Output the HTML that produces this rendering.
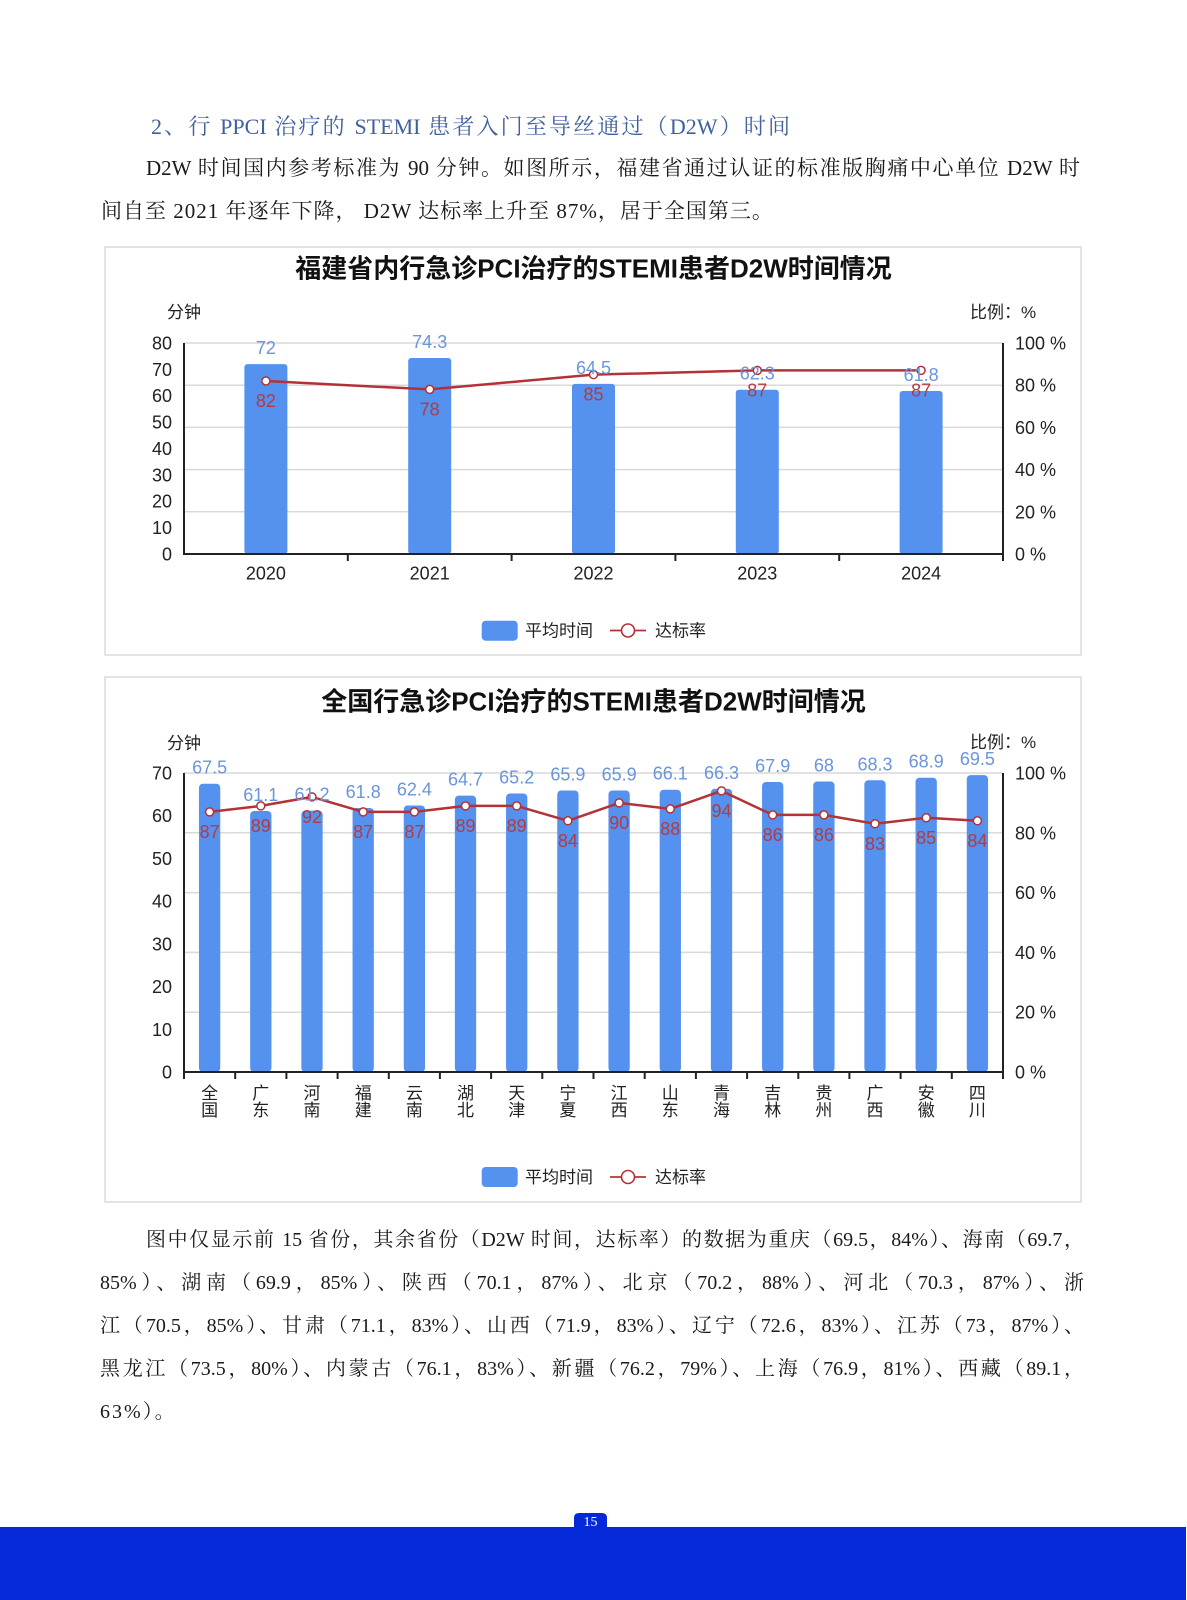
<!DOCTYPE html>
<html lang="zh">
<head>
<meta charset="utf-8">
<style>
  html,body{margin:0;padding:0;background:#fff;}
  body{width:1187px;height:1600px;position:relative;overflow:hidden;}
  .t{position:absolute;height:30px;line-height:30px;white-space:normal;color:#1a1a1a;
     font-family:"Liberation Serif","Noto Serif CJK SC",serif;}
  .j{text-align:justify;text-align-last:justify;}
  svg{position:absolute;left:0;top:0;}
  svg text{font-family:"Liberation Sans","Noto Sans CJK SC",sans-serif;}
</style>
</head>
<body>

<div class="t j" style="left:151px;top:112px;width:639px;font-size:22px;color:#41609e;">2、行 PPCI 治疗的 STEMI 患者入门至导丝通过（D2W）时间</div>
<div class="t j" style="left:146px;top:153px;width:934px;font-size:21px;">D2W 时间国内参考标准为 90 分钟。如图所示，福建省通过认证的标准版胸痛中心单位 D2W 时</div>
<div class="t" style="left:101px;top:196px;width:900px;font-size:21px;letter-spacing:1px;">间自至 2021 年逐年下降， D2W 达标率上升至 87%，居于全国第三。</div>

<div class="t j" style="left:146px;top:1225px;width:938px;font-size:20px;">图中仅显示前 15 省份，其余省份（D2W 时间，达标率）的数据为重庆（69.5，84%）、海南（69.7，</div>
<div class="t j" style="left:100px;top:1268px;width:984px;font-size:20px;">85%）、湖南（69.9，85%）、陕西（70.1，87%）、北京（70.2，88%）、河北（70.3，87%）、浙</div>
<div class="t j" style="left:100px;top:1311px;width:984px;font-size:20px;">江（70.5，85%）、甘肃（71.1，83%）、山西（71.9，83%）、辽宁（72.6，83%）、江苏（73，87%）、</div>
<div class="t j" style="left:100px;top:1354px;width:984px;font-size:20px;">黑龙江（73.5，80%）、内蒙古（76.1，83%）、新疆（76.2，79%）、上海（76.9，81%）、西藏（89.1，</div>
<div class="t" style="left:100px;top:1397px;width:400px;font-size:20px;letter-spacing:2px;">63%）。</div>

<svg width="1187" height="1600" viewBox="0 0 1187 1600" xmlns="http://www.w3.org/2000/svg">
  <!-- ================= CHART 1 ================= -->
  <rect x="105" y="247" width="976" height="408" fill="none" stroke="#dcdcdc" stroke-width="1.5"/>
  <text x="593.5" y="277.5" font-size="26" font-weight="bold" fill="#111" text-anchor="middle">福建省内行急诊PCI治疗的STEMI患者D2W时间情况</text>
  <text x="167" y="318" font-size="17" fill="#222">分钟</text>
  <text x="970" y="318" font-size="17" fill="#222">比例：%</text>

  <g stroke="#d9d9d9" stroke-width="1.5">
    <line x1="184" y1="343" x2="1003" y2="343"/>
    <line x1="184" y1="385.2" x2="1003" y2="385.2"/>
    <line x1="184" y1="427.4" x2="1003" y2="427.4"/>
    <line x1="184" y1="469.6" x2="1003" y2="469.6"/>
    <line x1="184" y1="511.8" x2="1003" y2="511.8"/>
  </g>

  <g font-size="18" fill="#222" text-anchor="end">
    <text x="172" y="349.5">80</text>
    <text x="172" y="375.9">70</text>
    <text x="172" y="402.2">60</text>
    <text x="172" y="428.6">50</text>
    <text x="172" y="455">40</text>
    <text x="172" y="481.4">30</text>
    <text x="172" y="507.7">20</text>
    <text x="172" y="534.1">10</text>
    <text x="172" y="560.5">0</text>
  </g>
  <g font-size="18" fill="#222">
    <text x="1015" y="349.5">100 %</text>
    <text x="1015" y="391.7">80 %</text>
    <text x="1015" y="433.9">60 %</text>
    <text x="1015" y="476.1">40 %</text>
    <text x="1015" y="518.3">20 %</text>
    <text x="1015" y="560.5">0 %</text>
  </g>

  <g fill="#5591ef">
    <rect x="244.4" y="364.1" width="43" height="189.9" rx="3"/>
    <rect x="408.2" y="358.0" width="43" height="196.0" rx="3"/>
    <rect x="572.0" y="383.9" width="43" height="170.1" rx="3"/>
    <rect x="735.8" y="389.7" width="43" height="164.3" rx="3"/>
    <rect x="899.6" y="391.0" width="43" height="163.0" rx="3"/>
  </g>

  <g stroke="#222" stroke-width="2" fill="none">
    <line x1="184" y1="343" x2="184" y2="555"/>
    <line x1="1003" y1="343" x2="1003" y2="561"/>
    <line x1="183" y1="554" x2="1004" y2="554"/>
    <line x1="347.8" y1="554" x2="347.8" y2="561"/>
    <line x1="511.6" y1="554" x2="511.6" y2="561"/>
    <line x1="675.4" y1="554" x2="675.4" y2="561"/>
    <line x1="839.2" y1="554" x2="839.2" y2="561"/>
  </g>

  <g font-size="18" fill="#222" text-anchor="middle">
    <text x="265.9" y="579.5">2020</text>
    <text x="429.7" y="579.5">2021</text>
    <text x="593.5" y="579.5">2022</text>
    <text x="757.3" y="579.5">2023</text>
    <text x="921.1" y="579.5">2024</text>
  </g>

  <polyline points="265.9,381 429.7,389.4 593.5,374.65 757.3,370.4 921.1,370.4" fill="none" stroke="#b43237" stroke-width="2.5" stroke-linejoin="round"/>
  <g fill="#fff" stroke="#b43237" stroke-width="1.5">
    <circle cx="265.9" cy="381" r="4"/>
    <circle cx="429.7" cy="389.4" r="4"/>
    <circle cx="593.5" cy="374.65" r="4"/>
    <circle cx="757.3" cy="370.4" r="4"/>
    <circle cx="921.1" cy="370.4" r="4"/>
  </g>

  <g font-size="18" fill="#6a95dc" text-anchor="middle">
    <text x="265.9" y="354.1">72</text>
    <text x="429.7" y="348.0">74.3</text>
    <text x="593.5" y="373.9">64.5</text>
    <text x="757.3" y="379.7">62.3</text>
    <text x="921.1" y="381.0">61.8</text>
  </g>
  <g font-size="18" fill="#b03c46" text-anchor="middle">
    <text x="265.9" y="407">82</text>
    <text x="429.7" y="415.4">78</text>
    <text x="593.5" y="400.6">85</text>
    <text x="757.3" y="396.4">87</text>
    <text x="921.1" y="396.4">87</text>
  </g>

  <rect x="481.7" y="620.7" width="36" height="20" rx="4" fill="#5591ef"/>
  <text x="525" y="636.5" font-size="17" fill="#222">平均时间</text>
  <line x1="610" y1="630.5" x2="646" y2="630.5" stroke="#b43237" stroke-width="1.8"/>
  <circle cx="628" cy="630.5" r="6.5" fill="#fff" stroke="#b43237" stroke-width="1.6"/>
  <text x="655" y="636.5" font-size="17" fill="#222">达标率</text>

  <!-- ================= CHART 2 ================= -->
  <rect x="105" y="677" width="976" height="525" fill="none" stroke="#dcdcdc" stroke-width="1.5"/>
  <text x="593.5" y="710.5" font-size="26" font-weight="bold" fill="#111" text-anchor="middle">全国行急诊PCI治疗的STEMI患者D2W时间情况</text>
  <text x="167" y="749" font-size="17" fill="#222">分钟</text>
  <text x="970" y="748" font-size="17" fill="#222">比例：%</text>

  <g stroke="#d9d9d9" stroke-width="1.5">
    <line x1="184" y1="773" x2="1003" y2="773"/>
    <line x1="184" y1="832.8" x2="1003" y2="832.8"/>
    <line x1="184" y1="892.6" x2="1003" y2="892.6"/>
    <line x1="184" y1="952.4" x2="1003" y2="952.4"/>
    <line x1="184" y1="1012.2" x2="1003" y2="1012.2"/>
  </g>

  <g font-size="18" fill="#222" text-anchor="end">
    <text x="172" y="779.5">70</text>
    <text x="172" y="822.2">60</text>
    <text x="172" y="864.9">50</text>
    <text x="172" y="907.6">40</text>
    <text x="172" y="950.4">30</text>
    <text x="172" y="993.1">20</text>
    <text x="172" y="1035.8">10</text>
    <text x="172" y="1078.5">0</text>
  </g>
  <g font-size="18" fill="#222">
    <text x="1015" y="779.5">100 %</text>
    <text x="1015" y="839.3">80 %</text>
    <text x="1015" y="899.1">60 %</text>
    <text x="1015" y="958.9">40 %</text>
    <text x="1015" y="1018.7">20 %</text>
    <text x="1015" y="1078.5">0 %</text>
  </g>

  <g fill="#5591ef">
    <rect x="198.95" y="783.7" width="21.3" height="288.3" rx="4"/>
    <rect x="250.15" y="811.0" width="21.3" height="261.0" rx="4"/>
    <rect x="301.35" y="810.6" width="21.3" height="261.4" rx="4"/>
    <rect x="352.55" y="808.0" width="21.3" height="264.0" rx="4"/>
    <rect x="403.75" y="805.5" width="21.3" height="266.5" rx="4"/>
    <rect x="454.85" y="795.6" width="21.3" height="276.4" rx="4"/>
    <rect x="506.05" y="793.5" width="21.3" height="278.5" rx="4"/>
    <rect x="557.25" y="790.5" width="21.3" height="281.5" rx="4"/>
    <rect x="608.45" y="790.5" width="21.3" height="281.5" rx="4"/>
    <rect x="659.65" y="789.7" width="21.3" height="282.3" rx="4"/>
    <rect x="710.85" y="788.8" width="21.3" height="283.2" rx="4"/>
    <rect x="762.05" y="782.0" width="21.3" height="290.0" rx="4"/>
    <rect x="813.25" y="781.5" width="21.3" height="290.5" rx="4"/>
    <rect x="864.35" y="780.3" width="21.3" height="291.7" rx="4"/>
    <rect x="915.55" y="777.7" width="21.3" height="294.3" rx="4"/>
    <rect x="966.75" y="775.1" width="21.3" height="296.9" rx="4"/>
  </g>

  <g stroke="#222" stroke-width="2" fill="none">
    <line x1="184" y1="773" x2="184" y2="1079"/>
    <line x1="1003" y1="773" x2="1003" y2="1079"/>
    <line x1="183" y1="1072" x2="1004" y2="1072"/>
    <line x1="235.2" y1="1072" x2="235.2" y2="1079"/>
    <line x1="286.4" y1="1072" x2="286.4" y2="1079"/>
    <line x1="337.6" y1="1072" x2="337.6" y2="1079"/>
    <line x1="388.8" y1="1072" x2="388.8" y2="1079"/>
    <line x1="439.9" y1="1072" x2="439.9" y2="1079"/>
    <line x1="491.1" y1="1072" x2="491.1" y2="1079"/>
    <line x1="542.3" y1="1072" x2="542.3" y2="1079"/>
    <line x1="593.5" y1="1072" x2="593.5" y2="1079"/>
    <line x1="644.7" y1="1072" x2="644.7" y2="1079"/>
    <line x1="695.9" y1="1072" x2="695.9" y2="1079"/>
    <line x1="747.1" y1="1072" x2="747.1" y2="1079"/>
    <line x1="798.3" y1="1072" x2="798.3" y2="1079"/>
    <line x1="849.4" y1="1072" x2="849.4" y2="1079"/>
    <line x1="900.6" y1="1072" x2="900.6" y2="1079"/>
    <line x1="951.8" y1="1072" x2="951.8" y2="1079"/>
  </g>

  <g font-size="17" fill="#222" text-anchor="middle">
    <text x="209.6" y="1099">全</text><text x="209.6" y="1116">国</text>
    <text x="260.8" y="1099">广</text><text x="260.8" y="1116">东</text>
    <text x="312.0" y="1099">河</text><text x="312.0" y="1116">南</text>
    <text x="363.2" y="1099">福</text><text x="363.2" y="1116">建</text>
    <text x="414.4" y="1099">云</text><text x="414.4" y="1116">南</text>
    <text x="465.5" y="1099">湖</text><text x="465.5" y="1116">北</text>
    <text x="516.7" y="1099">天</text><text x="516.7" y="1116">津</text>
    <text x="567.9" y="1099">宁</text><text x="567.9" y="1116">夏</text>
    <text x="619.1" y="1099">江</text><text x="619.1" y="1116">西</text>
    <text x="670.3" y="1099">山</text><text x="670.3" y="1116">东</text>
    <text x="721.5" y="1099">青</text><text x="721.5" y="1116">海</text>
    <text x="772.7" y="1099">吉</text><text x="772.7" y="1116">林</text>
    <text x="823.9" y="1099">贵</text><text x="823.9" y="1116">州</text>
    <text x="875.0" y="1099">广</text><text x="875.0" y="1116">西</text>
    <text x="926.2" y="1099">安</text><text x="926.2" y="1116">徽</text>
    <text x="977.4" y="1099">四</text><text x="977.4" y="1116">川</text>
  </g>

  <polyline points="209.6,811.9 260.8,805.9 312.0,796.9 363.2,811.9 414.4,811.9 465.5,805.9 516.7,805.9 567.9,820.8 619.1,802.9 670.3,808.9 721.5,790.9 772.7,814.9 823.9,814.9 875.0,823.8 926.2,817.8 977.4,820.8" fill="none" stroke="#b43237" stroke-width="2.5" stroke-linejoin="round"/>
  <g fill="#fff" stroke="#b43237" stroke-width="1.5">
    <circle cx="209.6" cy="811.9" r="4"/>
    <circle cx="260.8" cy="805.9" r="4"/>
    <circle cx="312.0" cy="796.9" r="4"/>
    <circle cx="363.2" cy="811.9" r="4"/>
    <circle cx="414.4" cy="811.9" r="4"/>
    <circle cx="465.5" cy="805.9" r="4"/>
    <circle cx="516.7" cy="805.9" r="4"/>
    <circle cx="567.9" cy="820.8" r="4"/>
    <circle cx="619.1" cy="802.9" r="4"/>
    <circle cx="670.3" cy="808.9" r="4"/>
    <circle cx="721.5" cy="790.9" r="4"/>
    <circle cx="772.7" cy="814.9" r="4"/>
    <circle cx="823.9" cy="814.9" r="4"/>
    <circle cx="875.0" cy="823.8" r="4"/>
    <circle cx="926.2" cy="817.8" r="4"/>
    <circle cx="977.4" cy="820.8" r="4"/>
  </g>

  <g font-size="18" fill="#6a95dc" text-anchor="middle">
    <text x="209.6" y="773.7">67.5</text>
    <text x="260.8" y="801.0">61.1</text>
    <text x="312.0" y="800.6">61.2</text>
    <text x="363.2" y="798.0">61.8</text>
    <text x="414.4" y="795.5">62.4</text>
    <text x="465.5" y="785.6">64.7</text>
    <text x="516.7" y="783.5">65.2</text>
    <text x="567.9" y="780.5">65.9</text>
    <text x="619.1" y="780.5">65.9</text>
    <text x="670.3" y="779.7">66.1</text>
    <text x="721.5" y="778.8">66.3</text>
    <text x="772.7" y="772.0">67.9</text>
    <text x="823.9" y="771.5">68</text>
    <text x="875.0" y="770.3">68.3</text>
    <text x="926.2" y="767.7">68.9</text>
    <text x="977.4" y="765.1">69.5</text>
  </g>
  <g font-size="18" fill="#b03c46" text-anchor="middle">
    <text x="209.6" y="837.9">87</text>
    <text x="260.8" y="831.9">89</text>
    <text x="312.0" y="822.9">92</text>
    <text x="363.2" y="837.9">87</text>
    <text x="414.4" y="837.9">87</text>
    <text x="465.5" y="831.9">89</text>
    <text x="516.7" y="831.9">89</text>
    <text x="567.9" y="846.8">84</text>
    <text x="619.1" y="828.9">90</text>
    <text x="670.3" y="834.9">88</text>
    <text x="721.5" y="816.9">94</text>
    <text x="772.7" y="840.9">86</text>
    <text x="823.9" y="840.9">86</text>
    <text x="875.0" y="849.8">83</text>
    <text x="926.2" y="843.8">85</text>
    <text x="977.4" y="846.8">84</text>
  </g>

  <rect x="481.7" y="1167" width="36" height="20" rx="4" fill="#5591ef"/>
  <text x="525" y="1183" font-size="17" fill="#222">平均时间</text>
  <line x1="610" y1="1177" x2="646" y2="1177" stroke="#b43237" stroke-width="1.8"/>
  <circle cx="628" cy="1177" r="6.5" fill="#fff" stroke="#b43237" stroke-width="1.6"/>
  <text x="655" y="1183" font-size="17" fill="#222">达标率</text>

  <!-- ================= FOOTER ================= -->
  <rect x="0" y="1527" width="1186" height="73" fill="#0529d8"/>
  <path d="M574,1528 L574,1518 Q574,1513 579,1513 L602,1513 Q607,1513 607,1518 L607,1528 Z" fill="#0529d8"/>
  <text x="590.5" y="1526" font-size="14" fill="#fff" text-anchor="middle" style="font-family:'Liberation Serif',serif;">15</text>
</svg>

</body>
</html>
